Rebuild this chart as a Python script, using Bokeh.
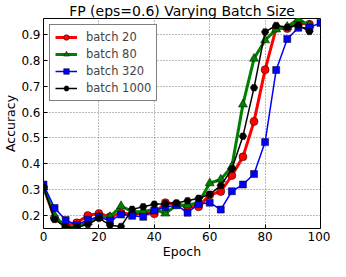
from bokeh.plotting import figure
from bokeh.models import FixedTicker, Range1d, Legend, LegendItem
from bokeh.embed import file_html
from bokeh.resources import INLINE

title_text = "FP (eps=0.6) Varying Batch Size"
x_label = "Epoch"
y_label = "Accuracy"
x_ticks = [0, 20, 40, 60, 80, 100]
y_ticks = [0.2, 0.3, 0.4, 0.5, 0.6, 0.7, 0.8, 0.9]

epochs_96 = [0, 4, 8, 12, 16, 20, 24, 28, 32, 36, 40, 44, 48, 52, 56, 60, 64, 68, 72, 76, 80, 84, 88, 92, 96]
epochs_100 = epochs_96 + [100]

batch20 = [0.31, 0.19, 0.16, 0.172, 0.20, 0.208, 0.195, 0.21, 0.205, 0.21, 0.207, 0.25, 0.245, 0.235, 0.234,
           0.28, 0.293, 0.355, 0.427, 0.564, 0.764, 0.925, 0.923, 0.945, 0.94]
batch80 = [0.31, 0.20, 0.155, 0.155, 0.175, 0.195, 0.195, 0.237, 0.215, 0.215, 0.225, 0.208, 0.24, 0.24, 0.25,
           0.325, 0.34, 0.39, 0.63, 0.807, 0.878, 0.92, 0.93, 0.96, 0.935]
batch320 = [0.32, 0.229, 0.183, 0.163, 0.184, 0.195, 0.18, 0.204, 0.199, 0.195, 0.22, 0.233, 0.24, 0.211, 0.245,
            0.25, 0.223, 0.294, 0.32, 0.361, 0.484, 0.763, 0.883, 0.926, 0.927, 0.945]
batch1000 = [0.31, 0.185, 0.155, 0.155, 0.165, 0.19, 0.163, 0.158, 0.224, 0.234, 0.244, 0.246, 0.249, 0.257, 0.267,
             0.282, 0.316, 0.38, 0.507, 0.694, 0.91, 0.935, 0.928, 0.936, 0.912]

FONT = "DejaVu Sans"

p = figure(width=330, height=261, output_backend="svg", toolbar_location=None,
           x_range=Range1d(0, 100), y_range=Range1d(0.15, 0.962),
           min_border_left=30, min_border_right=10, min_border_top=0, min_border_bottom=0)

p.title.text = title_text
p.title.text_font = FONT
p.title.text_font_size = "14px"
p.title.text_font_style = "normal"
p.title.text_color = "black"
p.title.align = "center"
p.title.standoff = 0
p.title.offset = 0
p.title.text_line_height = 0.9

p.outline_line_color = "black"
p.outline_line_width = 1
p.outline_line_alpha = 1

for ax in [p.xaxis[0], p.yaxis[0]]:
    ax.major_label_text_font = FONT
    ax.major_label_text_font_size = "12px"
    ax.major_label_text_color = "black"
    ax.major_label_text_line_height = 0.9
    ax.axis_label_text_font = FONT
    ax.axis_label_text_font_size = "12.5px"
    ax.axis_label_text_font_style = "normal"
    ax.axis_label_text_color = "black"
    ax.axis_label_text_line_height = 0.9
    ax.major_tick_in = 4
    ax.major_tick_out = 0
    ax.minor_tick_in = 0
    ax.minor_tick_out = 0
    ax.axis_line_color = None
    ax.major_tick_line_color = "black"
    ax.axis_label_standoff = 0
    ax.major_label_standoff = 3

p.xaxis[0].ticker = FixedTicker(ticks=x_ticks)
p.yaxis[0].ticker = FixedTicker(ticks=y_ticks)
p.xaxis[0].axis_label = x_label
p.yaxis[0].axis_label = y_label

p.xgrid.ticker = FixedTicker(ticks=x_ticks)
p.ygrid.ticker = FixedTicker(ticks=y_ticks)
for g in [p.xgrid[0], p.ygrid[0]]:
    g.grid_line_color = "#777777"
    g.grid_line_dash = "1 2"
    g.grid_line_width = 1

series = [
    ("batch 20", epochs_96, batch20, "#ff0000", 3, "circle", 8),
    ("batch 80", epochs_96, batch80, "#008000", 3, "triangle", 9),
    ("batch 320", epochs_100, batch320, "#0000ff", 1.5, "square", 7),
    ("batch 1000", epochs_96, batch1000, "#000000", 1.5, "hex", 7.5),
]

items = []
for name, xs, ys, color, lw, marker, size in series:
    r1 = p.line(xs, ys, line_color=color, line_width=lw)
    r2 = p.scatter(xs, ys, marker=marker, size=size, fill_color=color, line_color="black", line_width=0.5)
    items.append(LegendItem(label=name, renderers=[r1, r2]))

legend = Legend(items=items, location="top_left", margin=6, padding=5, spacing=3,
                glyph_width=22, glyph_height=14, label_height=14, label_standoff=9,
                label_text_font=FONT, label_text_font_size="11.5px",
                border_line_color="black", border_line_width=1, background_fill_alpha=1)
p.add_layout(legend, "center")

open("out.html", "w").write(file_html(p, INLINE))
